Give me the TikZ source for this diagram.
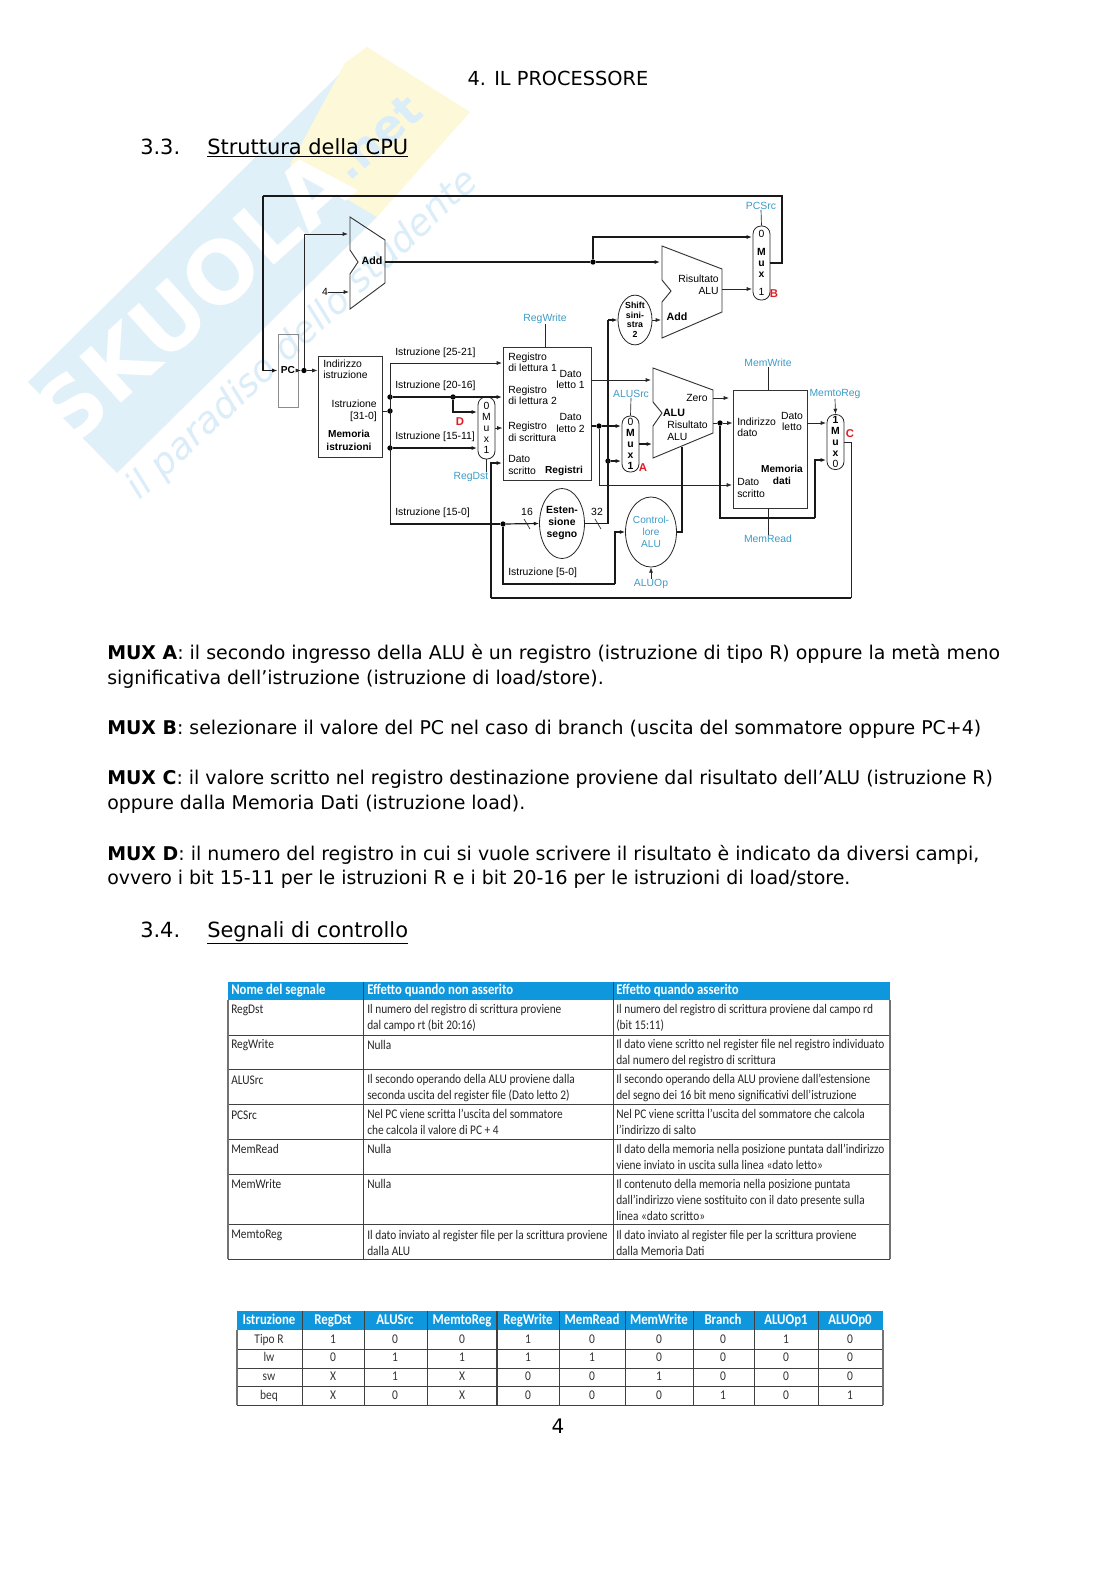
\documentclass[tikz,border=0pt]{standalone}
\usepackage{fontspec}
\usepackage{xcolor}
\setmainfont{DejaVu Sans}
\newfontfamily\diafont{Liberation Sans}
\newfontfamily\tabfont[FakeStretch=0.86]{Carlito}
\usetikzlibrary{arrows.meta,positioning,shapes.geometric}
\definecolor{ctrlblue}{HTML}{3C9CC8}
\definecolor{markred}{HTML}{E01B24}
\definecolor{headblue}{HTML}{0E97DC}
\definecolor{wmblue}{HTML}{DFF0F9}
\definecolor{wmtext}{HTML}{DAEDF8}
\definecolor{wmyellow}{HTML}{FDF9D8}

\begin{document}
\begin{tikzpicture}[
  x=0.75pt, y=-0.75pt,
  bodyline/.style={anchor=base west, inner sep=0pt, font=\fontsize{14.2}{18}\selectfont},
  secline/.style={anchor=base west, inner sep=0pt, font=\fontsize{15.7}{20}\selectfont},
  txt/.style={inner sep=0pt, align=left, font=\diafont\fontsize{7.8}{8.6}\selectfont},
  ctrl/.style={inner sep=0pt, align=center, text=ctrlblue, font=\diafont\fontsize{7.8}{8.6}\selectfont},
  redmark/.style={inner sep=0pt, text=markred, font=\diafont\bfseries\fontsize{8.5}{9}\selectfont},
  unit/.style={draw=black!80, line width=0.7pt, inner sep=0pt},
  muxbox/.style={draw=black!85, line width=0.6pt, rectangle, rounded corners=6pt, inner sep=0pt,
                 minimum width=12.75pt, align=center, font=\diafont\fontsize{7.8}{8.25}\selectfont},
  oval/.style={draw=black!85, line width=0.6pt, ellipse, inner sep=0pt, align=center},
  dot/.style={circle, fill=black, inner sep=0pt, minimum size=4pt},
  arrow/.style={-{Latex[length=4pt,width=3pt]}, black!85, line width=0.5pt},
  bus/.style={-{Latex[length=4pt,width=3pt]}, black!90, line width=0.9pt},
  plain/.style={black!85, line width=0.5pt},
  plainbus/.style={black!90, line width=0.9pt},
  tabtext/.style={anchor=west, inner sep=0pt, align=left, font=\tabfont\fontsize{9.9}{12}\selectfont, text=black!85},
  tabhead/.style={anchor=west, inner sep=0pt, text height=7.5pt, text depth=2.3pt, text=white, font=\tabfont\bfseries\fontsize{11.1}{12}\selectfont},
  headcell/.style={inner sep=0pt, text height=7.5pt, text depth=2.3pt, text=white, font=\tabfont\bfseries\fontsize{11.2}{12}\selectfont},
  numcell/.style={inner sep=0pt, text height=7pt, text depth=2pt, font=\tabfont\fontsize{10}{12}\selectfont, text=black!80},
  gridline/.style={draw=black!75, line width=0.6pt},
  outerline/.style={draw=black!55, line width=0.8pt}
]
\useasboundingbox (0,0) rectangle (1116,1579);
\fill[white] (0,0) rectangle (1116,1579);

% watermark
\fill[wmblue] (28,382) -- (367,47) -- (377,217) -- (117,473) -- cycle;
\fill[wmyellow] (345,63) -- (367,47) -- (470,112) -- (377,217) -- (290,165) -- cycle;
\node[text=white, rotate=42, inner sep=0pt, font=\bfseries\fontsize{64}{64}\selectfont] (wmname) at (193,297) {SKUOLA};
\node[text=wmtext, rotate=42, inner sep=0pt, font=\bfseries\fontsize{34}{34}\selectfont] (wmnet) at (377,137) {.net};
\node[text=wmtext, rotate=43, inner sep=0pt, font=\itshape\fontsize{27.5}{27.5}\selectfont] (wmslogan) at (303,335) {il paradiso dello studente};

% page text
\node[anchor=base, inner sep=0pt, font=\fontsize{14.5}{18}\selectfont] (chapter) at (558,85) {4. IL PROCESSORE};
\node[secline] (sec33) at (140,154) {3.3.};
\node[secline] (sec33t) at (207,154) {\underline{Struttura della CPU}};
\node[bodyline] (muxa1) at (107,659) {\textbf{MUX A}: il secondo ingresso della ALU è un registro (istruzione di tipo R) oppure la metà meno};
\node[bodyline] (muxa2) at (107,684) {significativa dell’istruzione (istruzione di load/store).};
\node[bodyline] (muxb1) at (107,734) {\textbf{MUX B}: selezionare il valore del PC nel caso di branch (uscita del sommatore oppure PC+4)};
\node[bodyline] (muxc1) at (107,784) {\textbf{MUX C}: il valore scritto nel registro destinazione proviene dal risultato dell’ALU (istruzione R)};
\node[bodyline] (muxc2) at (107,809) {oppure dalla Memoria Dati (istruzione load).};
\node[bodyline] (muxd1) at (107,860) {\textbf{MUX D}: il numero del registro in cui si vuole scrivere il risultato è indicato da diversi campi,};
\node[bodyline] (muxd2) at (107,884) {ovvero i bit 15-11 per le istruzioni R e i bit 20-16 per le istruzioni di load/store.};
\node[secline] (sec34) at (140,937) {3.4.};
\node[secline] (sec34t) at (207,937) {\underline{Segnali di controllo}};
\node[anchor=base, inner sep=0pt, font=\fontsize{15}{18}\selectfont] (pageno) at (558,1433) {4};

% adders and ALU
\draw[unit, line join=miter] (350,217) -- (385,240) -- (385,283) -- (350,309) -- (350,274) -- (358,262) -- (350,250) -- cycle;
\draw[unit, line join=miter] (662,246) -- (722,269) -- (722,312) -- (662,338) -- (662,302) -- (671,291) -- (662,280) -- cycle;
\draw[unit, line join=miter] (653,368) -- (713,390) -- (713,433) -- (653,458) -- (653,426) -- (662,413) -- (653,402) -- cycle;

% units
\node[unit, draw=black!45, minimum width=15pt, minimum height=54.75pt, font=\diafont\bfseries\fontsize{7.6}{9}\selectfont] (pc) at (288,370.5) {PC};
\node[unit, minimum width=48pt, minimum height=75.75pt] (imem) at (350,406.5) {};
\node[unit, minimum width=66pt, minimum height=99.75pt] (regs) at (547,413.5) {};
\node[unit, minimum width=55.5pt, minimum height=88.5pt] (dmem) at (770,449) {};
\node[muxbox, minimum height=46.5pt] (muxD) at (486.5,428) {0\\M\\u\\x\\1};
\node[muxbox, minimum height=42pt] (muxA) at (630.5,444) {0\\\textbf{M}\\\textbf{u}\\\textbf{x}\\\textbf{1}};
\node[muxbox, minimum height=55.5pt] (muxB) at (761.5,263) {0\\[5pt]\textbf{M}\\\textbf{u}\\\textbf{x}\\[5pt]1};
\node[muxbox, minimum height=41.25pt] (muxC) at (835.5,442) {\textbf{1}\\\textbf{M}\\\textbf{u}\\\textbf{x}\\0};
\node[oval, minimum width=25.5pt, minimum height=34.5pt, font=\diafont\bfseries\fontsize{6.6}{7.2}\selectfont] (shift) at (635,320) {Shift\\sini-\\stra\\2};
\node[oval, minimum width=30pt, minimum height=52.5pt, font=\diafont\bfseries\fontsize{7.8}{9}\selectfont] (signext) at (562,523.5) {Esten-\\sione\\segno};
\node[oval, minimum width=31.5pt, minimum height=52.5pt, text=ctrlblue, font=\diafont\fontsize{7.6}{9.2}\selectfont] (aluctl) at (651,532) {Control-\\lore\\ALU};

% unit labels
\node[txt, font=\diafont\bfseries\fontsize{8}{9}\selectfont] (addA) at (372,261) {Add};
\node[txt, font=\diafont\bfseries\fontsize{8}{9}\selectfont] (addB) at (677,317) {Add};
\node[txt, anchor=east, align=right] (addres) at (719,285) {Risultato\\ALU};
\node[txt, font=\diafont\bfseries\fontsize{8}{9}\selectfont] (alulab) at (674,413) {ALU};
\node[txt] (zero) at (697,398) {Zero};
\node[txt, anchor=west] (alures) at (667,431) {Risultato\\ALU};
\node[txt, anchor=west] (iaddr) at (323,369.5) {Indirizzo\\istruzione};
\node[txt, anchor=east, align=right] (iout) at (377,411) {Istruzione\\{[31-0]}};
\node[txt, align=center, font=\diafont\bfseries\fontsize{7.6}{9.4}\selectfont] (imemlab) at (349,440.5) {Memoria\\istruzioni};
\node[txt, anchor=west] (rr1) at (508,362.5) {Registro\\di lettura 1};
\node[txt, anchor=west] (rr2) at (508,395.5) {Registro\\di lettura 2};
\node[txt, anchor=west] (wr) at (508,432) {Registro\\di scrittura};
\node[txt, anchor=west] (wd) at (508,465) {Dato\\scritto};
\node[txt, font=\diafont\bfseries\fontsize{7.6}{9}\selectfont] (regslab) at (564,471) {Registri};
\node[txt, anchor=east, align=center] (rd1lab) at (585,379.5) {Dato\\letto 1};
\node[txt, anchor=east, align=center] (rd2lab) at (585,423) {Dato\\letto 2};
\node[txt, anchor=west] (maddr) at (737,427.5) {Indirizzo\\dato};
\node[txt, align=center] (mout) at (792,421.5) {Dato\\letto};
\node[txt, align=center, font=\diafont\bfseries\fontsize{7.6}{9}\selectfont] (dmemlab) at (782,475) {Memoria\\dati};
\node[txt, anchor=west] (mwd) at (737,488) {Dato\\scritto};
\node[txt, anchor=west] (i2521) at (395,353) {Istruzione [25-21]};
\node[txt, anchor=west] (i2016) at (395,386) {Istruzione [20-16]};
\node[txt, anchor=west] (i1511) at (395,437) {Istruzione [15-11]};
\node[txt, anchor=west] (i150) at (395,513) {Istruzione [15-0]};
\node[txt, anchor=west] (i50) at (508,573) {Istruzione [5-0]};
\node[txt] (bits16) at (527,512) {16};
\node[txt] (bits32) at (597,512) {32};
\node[txt] (four) at (325,292) {4};

% control labels
\node[ctrl] (pcsrc) at (761,206) {PCSrc};
\node[ctrl] (regwrite) at (545,319) {RegWrite};
\node[ctrl] (regdst) at (471,477) {RegDst};
\node[ctrl] (alusrc) at (631,394) {ALUSrc};
\node[ctrl] (memwrite) at (768,363) {MemWrite};
\node[ctrl] (memread) at (768,539) {MemRead};
\node[ctrl] (memtoreg) at (835,394) {MemtoReg};
\node[ctrl] (aluop) at (651,584) {ALUOp};
\node[redmark] (markA) at (643,468) {A};
\node[redmark] (markB) at (774,294) {B};
\node[redmark] (markC) at (850,434) {C};
\node[redmark] (markD) at (460,422) {D};

% junctions and ports
\node[dot] (jpc) at (304,370.5) {};
\node[dot] (jadd) at (593,262) {};
\node[dot] (jins) at (390,411) {};
\node[dot] (j2016) at (390,397) {};
\node[dot] (jD) at (453,397) {};
\node[dot] (j1511) at (390,448) {};
\node[dot] (jsx) at (503,524) {};
\node[dot] (jmuxA) at (608,461) {};
\node[dot] (jrd2) at (599,426) {};
\node[dot] (jres) at (720,423) {};
\coordinate (topR) at (782,196);
\coordinate (topL) at (263,196);
\coordinate (addAa) at (348,234);
\coordinate (addAb) at (349,292);
\coordinate (addAo) at (385,262);
\coordinate (addBa) at (660,262);
\coordinate (addBb) at (661,320);
\coordinate (addBo) at (722,289);
\coordinate (muxBa) at (752,237);
\coordinate (muxBb) at (752,289);
\coordinate (iport) at (382,411);
\coordinate (r1in) at (502,363);
\coordinate (r2in) at (502,397);
\coordinate (mDa) at (477,412);
\coordinate (mDb) at (477,448);
\coordinate (busT) at (390,363);
\coordinate (busB) at (390,524);
\coordinate (wbR) at (851,598);
\coordinate (wbL) at (491,598);
\coordinate (wdin) at (502,463);
\coordinate (b5b) at (615,584);
\coordinate (rise) at (608,320);
\coordinate (rd1o) at (591,380);
\coordinate (rd2o) at (591,426);
\coordinate (aluA) at (651,380);
\coordinate (aluB) at (652,444);
\coordinate (aluC) at (682,447);
\coordinate (mAa) at (621,426);
\coordinate (mAb) at (621,461);
\coordinate (mwin) at (732,485);
\coordinate (zeroO) at (713,398);
\coordinate (zeroE) at (729,398);
\coordinate (resO) at (713,423);
\coordinate (mCa) at (826,423);
\coordinate (mCb) at (826,460);
\coordinate (byp) at (815,518);
\coordinate (s16) at (527,524);
\coordinate (s32) at (598,524);

% connectors
\draw[plainbus] (muxB.east) -| (topR) -- (topL);
\draw[bus] (topL) |- (pc.west);
\draw[arrow] (pc.east) -- (jpc);
\draw[arrow] (jpc) -- (imem.west |- jpc);
\draw[arrow] (jpc) |- (addAa);
\draw[arrow] (four) -- (addAb);
\draw[plainbus] (addAo) -- (jadd);
\draw[bus] (jadd) -- (addBa);
\draw[bus] (jadd) |- (muxBa);
\draw[arrow] (addBo) -- (muxBb);
\draw[arrow] (shift.east) -- (addBb);
\draw[plain] (iport) -- (jins);
\draw[plain] (busT) -- (busB);
\draw[arrow] (busT) -- (r1in);
\draw[bus] (j2016) -- (r2in);
\draw[bus] (jD) |- (mDa);
\draw[bus] (j1511) -- (mDb);
\draw[plainbus] (busB) -- (jsx);
\draw[bus] (jsx) -- (signext.west);
\draw[plainbus] (jsx) |- (b5b);
\draw[bus] (b5b) |- (aluctl.west);
\draw[arrow] (muxD.east) -- (regs.west |- muxD.east);
\draw[plain] (muxD.south) -- (muxD.south |- regdst.north);
\draw[plain] (muxC.east) -| (wbR);
\draw[plainbus] (wbR) -- (wbL);
\draw[bus] (wbL) |- (wdin);
\draw[plainbus] (signext.east) -| (rise);
\draw[bus] (rise) -- (shift.west);
\draw[bus] (jmuxA) -- (mAb);
\draw[arrow] (rd1o) -- (aluA);
\draw[plainbus] (rd2o) -- (jrd2);
\draw[bus] (jrd2) -- (mAa);
\draw[arrow] (jrd2) |- (mwin);
\draw[bus] (muxA.east) -- (aluB);
\draw[plainbus] (aluctl.east) -| (aluC);
\draw[arrow] (zeroO) -- (zeroE);
\draw[plain] (resO) -- (jres);
\draw[arrow] (jres) -- (dmem.west |- jres);
\draw[plainbus] (jres) |- (byp);
\draw[bus] (byp) |- (mCb);
\draw[arrow] (dmem.east |- jres) -- (mCa);
\draw[plain] (pcsrc.south) -- (muxB.north);
\draw[plain] (regwrite.south) -- (regs.north -| regwrite);
\draw[plain] (alusrc.south) -- (muxA.north);
\draw[plain] (memwrite.south) -- (dmem.north -| memwrite);
\draw[plain] (dmem.south -| memread) -- (memread.north);
\draw[arrow] (memtoreg.south) -- (muxC.north);
\draw[arrow] (aluop.north) -- (aluctl.south);
\draw[plain] (s16) ++(-3,-5) -- ++(6,10);
\draw[plain] (s32) ++(-3,-5) -- ++(6,10);

% table of signals
\fill[headblue] (228,982) rectangle (890,1000);
\draw[gridline] (228,1035) -- (890,1035);
\draw[gridline] (228,1069) -- (890,1069);
\draw[gridline] (228,1104) -- (890,1104);
\draw[gridline] (228,1139) -- (890,1139);
\draw[gridline] (228,1174) -- (890,1174);
\draw[gridline] (228,1224) -- (890,1224);
\draw[gridline] (228,1259) -- (890,1259);
\draw[outerline] (228,1000) -- (228,1259);
\draw[gridline] (363,982) -- (363,1259);
\draw[gridline] (613,982) -- (613,1259);
\draw[outerline] (890,1000) -- (890,1259);
\node[tabhead] (h1) at (231,991) {Nome del segnale};
\node[tabhead] (h2) at (367,991) {Effetto quando non asserito};
\node[tabhead] (h3) at (616,991) {Effetto quando asserito};
\node[tabtext] (s1) at (231,1010) {RegDst};
\node[tabtext] (s2) at (231,1045) {RegWrite};
\node[tabtext] (s3) at (231,1080) {ALUSrc};
\node[tabtext] (s4) at (231,1115) {PCSrc};
\node[tabtext] (s5) at (231,1149) {MemRead};
\node[tabtext] (s6) at (231,1184) {MemWrite};
\node[tabtext] (s7) at (231,1235) {MemtoReg};
\node[tabtext] (a1) at (367,1018) {Il numero del registro di scrittura proviene\\dal campo rt (bit 20:16)};
\node[tabtext] (a2) at (367,1045) {Nulla};
\node[tabtext] (a3) at (367,1088) {Il secondo operando della ALU proviene dalla\\seconda uscita del register file (Dato letto 2)};
\node[tabtext] (a4) at (367,1122) {Nel PC viene scritta l’uscita del sommatore\\che calcola il valore di PC + 4};
\node[tabtext] (a5) at (367,1149) {Nulla};
\node[tabtext] (a6) at (367,1184) {Nulla};
\node[tabtext] (a7) at (367,1243) {Il dato inviato al register file per la scrittura proviene\\dalla ALU};
\node[tabtext] (b1) at (616,1018) {Il numero del registro di scrittura proviene dal campo rd\\(bit 15:11)};
\node[tabtext] (b2) at (616,1053) {Il dato viene scritto nel register file nel registro individuato\\dal numero del registro di scrittura};
\node[tabtext] (b3) at (616,1088) {Il secondo operando della ALU proviene dall’estensione\\del segno dei 16 bit meno significativi dell’istruzione};
\node[tabtext] (b4) at (616,1122) {Nel PC viene scritta l’uscita del sommatore che calcola\\l’indirizzo di salto};
\node[tabtext] (b5) at (616,1157) {Il dato della memoria nella posizione puntata dall’indirizzo\\viene inviato in uscita sulla linea «dato letto»};
\node[tabtext] (b6) at (616,1200) {Il contenuto della memoria nella posizione puntata\\dall’indirizzo viene sostituito con il dato presente sulla\\linea «dato scritto»};
\node[tabtext] (b7) at (616,1243) {Il dato inviato al register file per la scrittura proviene\\dalla Memoria Dati};

% table of instructions
\fill[headblue] (237,1311) rectangle (883,1330);
\draw[gridline] (237,1349) -- (883,1349);
\draw[gridline] (237,1368) -- (883,1368);
\draw[gridline] (237,1386) -- (883,1386);
\draw[gridline] (237,1405) -- (883,1405);
\draw[outerline] (237,1330) -- (237,1405);
\draw[gridline] (302,1311) -- (302,1405);
\draw[gridline] (364,1311) -- (364,1405);
\draw[gridline] (427,1311) -- (427,1405);
\draw[gridline, line width=1pt] (497,1311) -- (497,1405);
\draw[gridline] (559,1311) -- (559,1405);
\draw[gridline] (625,1311) -- (625,1405);
\draw[gridline] (693,1311) -- (693,1405);
\draw[gridline] (754,1311) -- (754,1405);
\draw[gridline] (818,1311) -- (818,1405);
\draw[outerline] (883,1330) -- (883,1405);
\node[headcell] (c0) at (269,1321) {Istruzione};
\node[headcell] (c1) at (333,1321) {RegDst};
\node[headcell] (c2) at (395,1321) {ALUSrc};
\node[headcell] (c3) at (462,1321) {MemtoReg};
\node[headcell] (c4) at (528,1321) {RegWrite};
\node[headcell] (c5) at (592,1321) {MemRead};
\node[headcell] (c6) at (659,1321) {MemWrite};
\node[headcell] (c7) at (723,1321) {Branch};
\node[headcell] (c8) at (786,1321) {ALUOp1};
\node[headcell] (c9) at (850,1321) {ALUOp0};
\node[numcell] (r0) at (269,1340) {Tipo R};
\node[numcell] (r1) at (333,1340) {1};
\node[numcell] (r2) at (395,1340) {0};
\node[numcell] (r3) at (462,1340) {0};
\node[numcell] (r4) at (528,1340) {1};
\node[numcell] (r5) at (592,1340) {0};
\node[numcell] (r6) at (659,1340) {0};
\node[numcell] (r7) at (723,1340) {0};
\node[numcell] (r8) at (786,1340) {1};
\node[numcell] (r9) at (850,1340) {0};
\node[numcell] (l0) at (269,1358) {lw};
\node[numcell] (l1) at (333,1358) {0};
\node[numcell] (l2) at (395,1358) {1};
\node[numcell] (l3) at (462,1358) {1};
\node[numcell] (l4) at (528,1358) {1};
\node[numcell] (l5) at (592,1358) {1};
\node[numcell] (l6) at (659,1358) {0};
\node[numcell] (l7) at (723,1358) {0};
\node[numcell] (l8) at (786,1358) {0};
\node[numcell] (l9) at (850,1358) {0};
\node[numcell] (w0) at (269,1377) {sw};
\node[numcell] (w1) at (333,1377) {X};
\node[numcell] (w2) at (395,1377) {1};
\node[numcell] (w3) at (462,1377) {X};
\node[numcell] (w4) at (528,1377) {0};
\node[numcell] (w5) at (592,1377) {0};
\node[numcell] (w6) at (659,1377) {1};
\node[numcell] (w7) at (723,1377) {0};
\node[numcell] (w8) at (786,1377) {0};
\node[numcell] (w9) at (850,1377) {0};
\node[numcell] (e0) at (269,1396) {beq};
\node[numcell] (e1) at (333,1396) {X};
\node[numcell] (e2) at (395,1396) {0};
\node[numcell] (e3) at (462,1396) {X};
\node[numcell] (e4) at (528,1396) {0};
\node[numcell] (e5) at (592,1396) {0};
\node[numcell] (e6) at (659,1396) {0};
\node[numcell] (e7) at (723,1396) {1};
\node[numcell] (e8) at (786,1396) {0};
\node[numcell] (e9) at (850,1396) {1};
\end{tikzpicture}
\end{document}
